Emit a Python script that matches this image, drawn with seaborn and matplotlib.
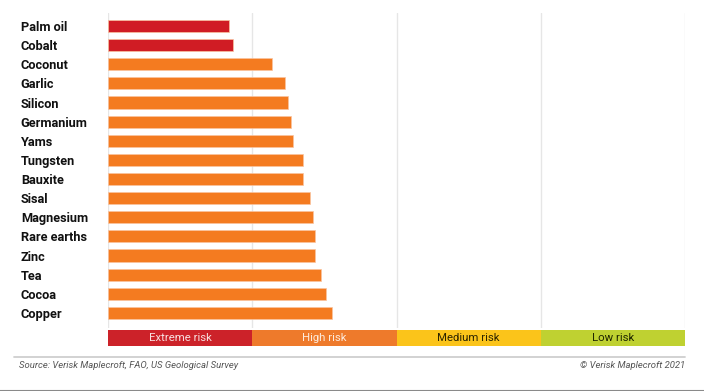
import matplotlib
matplotlib.use("Agg")
import matplotlib.pyplot as plt
from matplotlib.lines import Line2D
import seaborn as sns
import pandas as pd

commodities = ["Palm oil", "Cobalt", "Coconut", "Garlic", "Silicon", "Germanium", "Yams",
               "Tungsten", "Bauxite", "Sisal", "Magnesium", "Rare earths", "Zinc", "Tea",
               "Cocoa", "Copper"]
scores = [2.09, 2.17, 2.84, 3.07, 3.12, 3.17, 3.21, 3.38, 3.38, 3.49, 3.55, 3.58, 3.59,
          3.69, 3.78, 3.88]
risk = ["Extreme risk", "Extreme risk"] + ["High risk"] * 14

band_names = ["Extreme risk", "High risk", "Medium risk", "Low risk"]
band_starts = [0, 2.5, 5, 7.5]
band_widths = [2.5, 2.5, 2.5, 2.5]

bar_colors = {"Extreme risk": "#D01C24", "High risk": "#F47B20"}
band_colors = ["#CC2229", "#EE7A2B", "#FBC41A", "#BFD131"]
band_text = ["#F8E0E0", "#FDEBDD", "#2B2400", "#1F2600"]

sns.set_style("white")
plt.rcParams["font.family"] = ["Roboto", "DejaVu Sans"]

fig = plt.figure(figsize=(7.04, 3.91), dpi=100)
W, H = 704, 391

ax = fig.add_axes([108.3 / W, 1 - 328 / H, (685 - 108.3) / W, (328 - 13) / H])
df = pd.DataFrame({"commodity": commodities, "score": scores, "risk": risk})
sns.barplot(data=df, y="commodity", x="score", hue="risk", palette=bar_colors,
            orient="h", width=0.63, dodge=False, legend=False, ax=ax,
            saturation=1, edgecolor="#F9C4A0", linewidth=0.5)
ax.set_xlim(0, 10)
ax.set_ylim(15.79, -0.68)
ax.set_xlabel("")
ax.set_ylabel("")
ax.set_xticks([])
for x in [0, 2.5, 5, 7.5, 10]:
    ax.axvline(x, color="#E6E6E6", lw=1, zorder=0)
for s in ax.spines.values():
    s.set_visible(False)
ax.tick_params(axis="y", length=0, pad=63)
for lbl in ax.get_yticklabels():
    lbl.set_ha("left")
    lbl.set_fontweight("bold")
    lbl.set_fontsize(9.2)
    lbl.set_color("#111111")

bax = fig.add_axes([108.3 / W, 1 - 346 / H, (685 - 108.3) / W, 16 / H])
bax.barh([0] * 4, band_widths, left=band_starts, height=1, color=band_colors,
         edgecolor="none")
for name, st, w, tc in zip(band_names, band_starts, band_widths, band_text):
    bax.text(st + w / 2, -0.02, name, ha="center", va="center", fontsize=8.2,
             color=tc, fontweight="normal")
bax.set_xlim(0, 10)
bax.set_ylim(-0.5, 0.5)
bax.axis("off")

fig.add_artist(Line2D([14 / W, 685 / W], [1 - 356.7 / H] * 2, color="#CFCFCF", lw=1.3))
fig.text(19 / W, 1 - 365.5 / H, "Source: Verisk Maplecroft, FAO, US Geological Survey",
         fontsize=6.8, style="italic", color="#555555", va="center", ha="left")
fig.text(685 / W, 1 - 365.5 / H, "\u00a9 Verisk Maplecroft 2021",
         fontsize=6.8, style="italic", color="#555555", va="center", ha="right")
fig.add_artist(Line2D([0, 1], [0.5 / H] * 2, color="#8A8A8A", lw=1.5))

fig.savefig("out.png", dpi=100)
